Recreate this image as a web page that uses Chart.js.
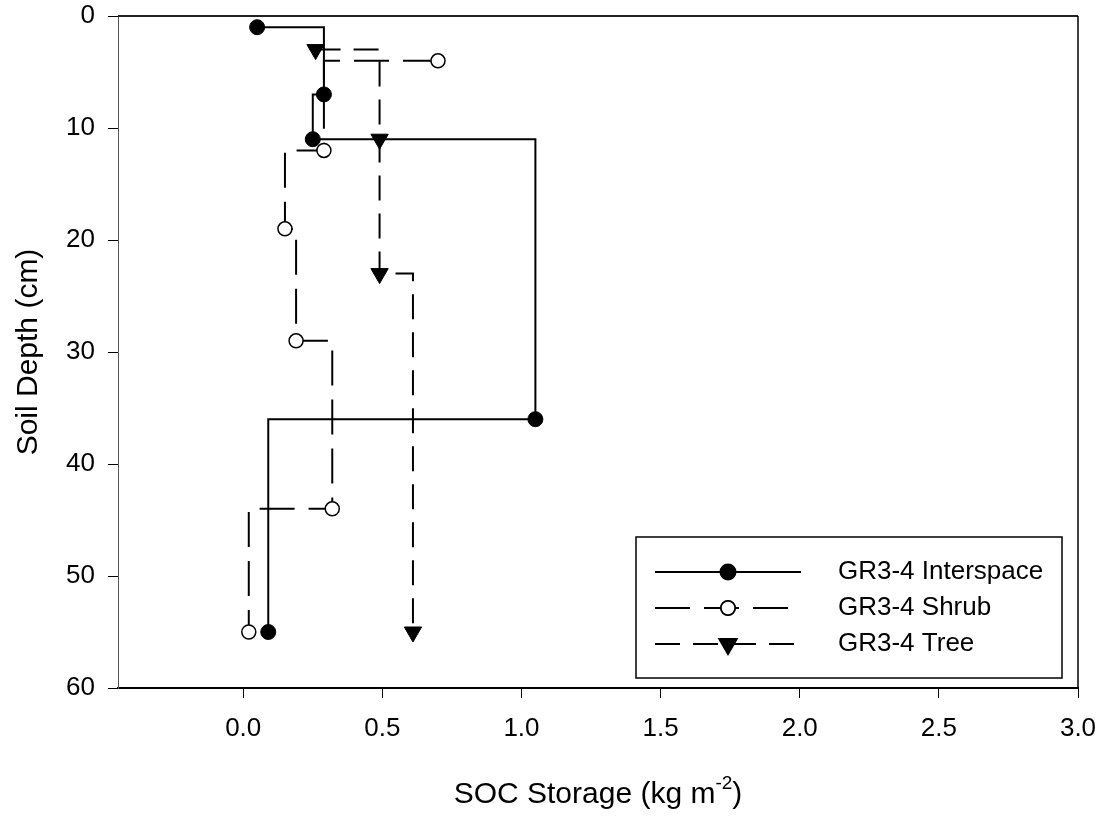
<!DOCTYPE html>
<html>
<head>
<meta charset="utf-8">
<title>SOC Storage by Soil Depth</title>
<script src="https://cdn.jsdelivr.net/npm/chart.js@4/dist/chart.umd.min.js"></script>
<style>
    html, body { margin: 0; padding: 0; background: #fff; }
    #wrap { width: 1105px; height: 818px; }
</style>
</head>
<body>
<div id="wrap"><canvas id="chart" width="1105" height="818"></canvas></div>
<script>
'use strict';

// values (x = SOC storage, kg m-2; depth = cm)
var interspaceX = [0.05, 0.29, 0.25, 1.05, 0.09],
    interspaceDepth = [1, 7, 11, 36, 55],
    shrubX = [0.70, 0.29, 0.15, 0.19, 0.32, 0.02],
    shrubDepth = [4, 12, 19, 29, 44, 55],
    treeX = [0.26, 0.49, 0.49, 0.61],
    treeDepth = [3, 11, 23, 55],
    seriesNames = ['GR3-4 Interspace', 'GR3-4 Shrub', 'GR3-4 Tree'],
    xTicks = [0, 0.5, 1, 1.5, 2, 2.5, 3],
    depthTicks = [0, 10, 20, 30, 40, 50, 60];

var FONT = "'Liberation Sans', Arial, sans-serif",

    toPoints = function (xs, ys) {
        return xs.map(function (x, i) { return { x: x, y: ys[i] }; });
    },

    // keep the plot box where the figure has it; no label overhang padding
    fixBox = function (size) {
        return function (scale) {
            if (scale.isHorizontal()) {
                scale.height = size;
            } else {
                scale.width = size;
            }
            scale.paddingTop = 0;
            scale.paddingBottom = 0;
            scale.paddingLeft = 0;
            scale.paddingRight = 0;
        };
    },

    // top/right frame, axis titles and the boxed legend
    decorations = {
        id: 'decorations',
        afterDraw: function (chart) {
            var ctx = chart.ctx,
                area = chart.chartArea,
                box = { left: 636, top: 537, right: 1062, bottom: 678 },
                rows = [572, 608, 644],
                main, sup, w1, w2, w3, start;

            ctx.save();

            ctx.strokeStyle = '#222';
            ctx.lineWidth = 2;
            ctx.beginPath();
            ctx.moveTo(area.left, area.top);
            ctx.lineTo(area.right, area.top);
            ctx.stroke();
            ctx.strokeStyle = '#000';
            ctx.lineWidth = 1.5;
            ctx.beginPath();
            ctx.moveTo(area.right, area.top);
            ctx.lineTo(area.right, area.bottom);
            ctx.stroke();

            // y title
            ctx.fillStyle = '#000';
            ctx.font = '30px ' + FONT;
            ctx.textAlign = 'center';
            ctx.textBaseline = 'middle';
            ctx.translate(29, (area.top + area.bottom) / 2);
            ctx.rotate(-Math.PI / 2);
            ctx.fillText('Soil Depth (cm)', 0, 0);
            ctx.setTransform(1, 0, 0, 1, 0, 0);

            // x title with superscript
            main = '30px ' + FONT;
            sup = '19px ' + FONT;
            ctx.textAlign = 'left';
            ctx.textBaseline = 'alphabetic';
            ctx.font = main;
            w1 = ctx.measureText('SOC Storage (kg m').width;
            w3 = ctx.measureText(')').width;
            ctx.font = sup;
            w2 = ctx.measureText('-2').width;
            start = (area.left + area.right) / 2 - (w1 + w2 + w3) / 2;
            ctx.font = main;
            ctx.fillText('SOC Storage (kg m', start, 803);
            ctx.font = sup;
            ctx.fillText('-2', start + w1, 789);
            ctx.font = main;
            ctx.fillText(')', start + w1 + w2, 803);

            // legend
            ctx.fillStyle = '#fff';
            ctx.fillRect(box.left, box.top, box.right - box.left, box.bottom - box.top);
            ctx.strokeStyle = '#000';
            ctx.lineWidth = 1.5;
            ctx.strokeRect(box.left, box.top, box.right - box.left, box.bottom - box.top);

            chart.data.datasets.forEach(function (ds, i) {
                var y = rows[i];

                ctx.strokeStyle = '#000';
                ctx.lineWidth = ds.borderWidth;
                ctx.setLineDash(ds.borderDash || []);
                ctx.beginPath();
                ctx.moveTo(655, y);
                ctx.lineTo(801, y);
                ctx.stroke();
                ctx.setLineDash([]);

                Chart.helpers.drawPoint(ctx, {
                    pointStyle: ds.pointStyle,
                    rotation: ds.pointRotation || 0,
                    radius: ds.pointRadius,
                    borderWidth: ds.pointBorderWidth
                }, 728, y);
                ctx.fillStyle = ds.pointBackgroundColor;
                ctx.strokeStyle = '#000';
                ctx.lineWidth = ds.pointBorderWidth;
                ctx.fill();
                ctx.stroke();

                ctx.fillStyle = '#000';
                ctx.font = '26px ' + FONT;
                ctx.textAlign = 'left';
                ctx.textBaseline = 'middle';
                ctx.fillText(seriesNames[i], 838, y);
            });

            ctx.restore();
        }
    };

new Chart(document.getElementById('chart'), {
    type: 'scatter',
    data: {
        datasets: [{
            label: seriesNames[0],
            data: toPoints(interspaceX, interspaceDepth),
            showLine: true,
            stepped: 'before',
            borderColor: '#000',
            borderWidth: 2,
            pointStyle: 'circle',
            pointRadius: 7.5,
            pointBackgroundColor: '#000',
            pointBorderColor: '#000',
            pointBorderWidth: 1
        }, {
            label: seriesNames[1],
            data: toPoints(shrubX, shrubDepth),
            showLine: true,
            stepped: 'before',
            borderColor: '#000',
            borderWidth: 2,
            borderDash: [35, 14],
            pointStyle: 'circle',
            pointRadius: 7,
            pointBackgroundColor: '#fff',
            pointBorderColor: '#000',
            pointBorderWidth: 1.5
        }, {
            label: seriesNames[2],
            data: toPoints(treeX, treeDepth),
            showLine: true,
            stepped: 'before',
            borderColor: '#000',
            borderWidth: 2,
            borderDash: [25, 13],
            pointStyle: 'triangle',
            pointRotation: 180,
            pointRadius: 10,
            pointBackgroundColor: '#000',
            pointBorderColor: '#000',
            pointBorderWidth: 1
        }]
    },
    options: {
        responsive: false,
        animation: false,
        layout: { padding: { top: 16, right: 27, left: 0, bottom: 0 } },
        plugins: {
            legend: { display: false },
            tooltip: { enabled: false }
        },
        scales: {
            x: {
                type: 'linear',
                min: -0.45,
                max: 3,
                afterFit: fixBox(130),
                afterBuildTicks: function (scale) {
                    scale.ticks = xTicks.map(function (v) { return { value: v }; });
                },
                border: { display: true, color: '#000', width: 2 },
                grid: { drawOnChartArea: false, drawTicks: true, tickLength: 10, color: '#000', lineWidth: 1 },
                ticks: {
                    color: '#000',
                    padding: 15,
                    font: { family: FONT, size: 26 },
                    callback: function (v) { return v.toFixed(1); }
                }
            },
            y: {
                type: 'linear',
                reverse: true,
                min: 0,
                max: 60,
                afterFit: fixBox(118),
                afterBuildTicks: function (scale) {
                    scale.ticks = depthTicks.map(function (v) { return { value: v }; });
                },
                border: { display: true, color: '#555', width: 1 },
                grid: { drawOnChartArea: false, drawTicks: true, tickLength: 10, color: '#000', lineWidth: 1 },
                ticks: {
                    color: '#000',
                    padding: 13,
                    font: { family: FONT, size: 26 }
                }
            }
        }
    },
    plugins: [decorations]
});
</script>
</body>
</html>
